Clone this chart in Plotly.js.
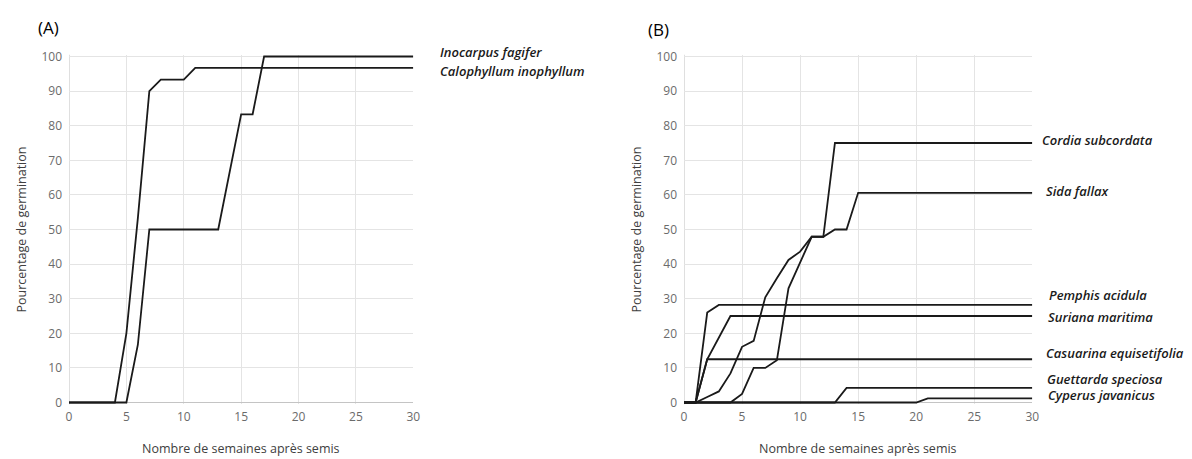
<!DOCTYPE html>
<html>
<head>
<meta charset="utf-8">
<script src="https://cdn.plot.ly/plotly-3.0.1.min.js"></script>
<style>
  html, body { margin: 0; padding: 0; background: #ffffff; }
  #chart { width: 1192px; height: 459px; }
</style>
</head>
<body>
<div id="chart"></div>
<script>
// ---- Panel A data (weeks after sowing, % germination) ----
const weeksInocarpus   = [0, 5, 6, 7, 13, 14, 15, 16, 17, 30];
const valuesInocarpus  = [0, 0, 16.7, 50, 50, 66.7, 83.3, 83.3, 100, 100];
const weeksCalophyllum  = [0, 4, 5, 6, 7, 8, 10, 11, 30];
const valuesCalophyllum = [0, 0, 20, 53.3, 90, 93.3, 93.3, 96.7, 96.7];

// ---- Panel B data ----
const weeksCordia   = [0, 1, 2, 3, 4, 5, 6, 7, 8, 9, 10, 11, 12, 13, 30];
const valuesCordia  = [0, 0, 1.6, 3.2, 8.4, 16.1, 17.8, 30.4, 35.9, 41.2, 43.6, 47.9, 47.9, 75, 75];
const weeksSida     = [0, 4, 5, 6, 7, 8, 9, 10, 11, 12, 13, 14, 15, 30];
const valuesSida    = [0, 0, 2.5, 10, 10, 12.2, 33, 40.5, 47.9, 47.9, 50, 50, 60.6, 60.6];
const weeksPemphis  = [0, 1, 2, 3, 30];
const valuesPemphis = [0, 0, 26, 28.2, 28.2];
const weeksSuriana  = [0, 1, 2, 3, 4, 30];
const valuesSuriana = [0, 0, 12.5, 18.75, 25, 25];
const weeksCasuarina  = [0, 1, 2, 30];
const valuesCasuarina = [0, 0, 12.5, 12.5];
const weeksGuettarda  = [0, 13, 14, 30];
const valuesGuettarda = [0, 0, 4.2, 4.2];
const weeksCyperus  = [0, 20, 21, 30];
const valuesCyperus = [0, 0, 1.2, 1.2];

// ---- Text ----
const panelTitles = ['(A)', '(B)'];
const xTitle = 'Nombre de semaines après semis';
const yTitle = 'Pourcentage de germination';

const seriesA = [
  {name: 'Inocarpus fagifer', x: weeksInocarpus, y: valuesInocarpus, dx: 25, dy: 5},
  {name: 'Calophyllum inophyllum', x: weeksCalophyllum, y: valuesCalophyllum, dx: 25, dy: -3}
];
const seriesB = [
  {name: 'Cordia subcordata', x: weeksCordia, y: valuesCordia, dx: 8, dy: 3},
  {name: 'Sida fallax', x: weeksSida, y: valuesSida, dx: 12, dy: 1.5},
  {name: 'Pemphis acidula', x: weeksPemphis, y: valuesPemphis, dx: 15, dy: 10},
  {name: 'Suriana maritima', x: weeksSuriana, y: valuesSuriana, dx: 14, dy: -0.5},
  {name: 'Casuarina equisetifolia', x: weeksCasuarina, y: valuesCasuarina, dx: 12, dy: 6.5},
  {name: 'Guettarda speciosa', x: weeksGuettarda, y: valuesGuettarda, dx: 13, dy: 8.5},
  {name: 'Cyperus javanicus', x: weeksCyperus, y: valuesCyperus, dx: 14, dy: 3.5}
];

const FONT = '"Open Sans", "Noto Sans", sans-serif';
const lineStyle = {color: '#1a1a1a', width: 1.8};

const traces = [];
const annotations = [];
function addSeries(list, xa, ya) {
  list.forEach(s => {
    traces.push({
      type: 'scatter', mode: 'lines', x: s.x, y: s.y, name: s.name,
      xaxis: xa, yaxis: ya, line: lineStyle, hoverinfo: 'x+y+name'
    });
    annotations.push({
      xref: xa, yref: ya, x: s.x[s.x.length - 1], y: s.y[s.y.length - 1],
      text: '<i>' + s.name + '</i>', showarrow: false, xanchor: 'left', yanchor: 'middle',
      xshift: s.dx, yshift: s.dy,
      font: {family: FONT, size: 13, color: '#1a1a1a', weight: 600}
    });
  });
}
addSeries(seriesA, 'x', 'y');
addSeries(seriesB, 'x2', 'y2');

annotations.push({xref: 'paper', yref: 'paper', x: 48 / 1192, y: 1 - 27 / 459,
  text: panelTitles[0], showarrow: false, xanchor: 'center', yanchor: 'middle',
  font: {family: FONT, size: 17, color: '#000000'}});
annotations.push({xref: 'paper', yref: 'paper', x: 658 / 1192, y: 1 - 30 / 459,
  text: panelTitles[1], showarrow: false, xanchor: 'center', yanchor: 'middle',
  font: {family: FONT, size: 17, color: '#000000'}});
// x-axis titles below each panel
['x', 'x2'].forEach(xa => {
  annotations.push({xref: xa + ' domain', yref: 'paper', x: 0.5, y: 0,
    text: xTitle, showarrow: false, xanchor: 'center', yanchor: 'bottom',
    font: {family: FONT, size: 12.5, color: '#404040'}});
});

function xAxis(domain, anchor) {
  return {
    domain: domain, anchor: anchor, range: [0, 30], dtick: 5, tick0: 0,
    showgrid: true, gridcolor: '#e4e4e4', gridwidth: 1, zeroline: false,
    showline: false, ticks: '',
    tickfont: {family: FONT, size: 12, color: '#6b6b6b'},
    ticklabelstandoff: 4,
    automargin: false, fixedrange: true
  };
}
function yAxis(domain, anchor) {
  return {
    domain: domain, anchor: anchor, range: [-0.5, 100.5], dtick: 10, tick0: 0,
    showgrid: true, gridcolor: '#e4e4e4', gridwidth: 1,
    zeroline: true, zerolinecolor: '#c4c4c4', zerolinewidth: 1.5,
    showline: false, ticks: '',
    tickfont: {family: FONT, size: 12, color: '#6b6b6b'},
    ticklabelstandoff: 6,
    title: {text: yTitle, standoff: 12, font: {family: FONT, size: 12.5, color: '#404040'}},
    automargin: false, fixedrange: true
  };
}

const pxPerUnit = (402.5 - 56.5) / 100;
const yDom = [(459 - 402.5 - 0.5 * pxPerUnit) / 459, (459 - 56.5 + 0.5 * pxPerUnit) / 459];
const layout = {
  width: 1192, height: 459,
  margin: {l: 0, r: 0, t: 0, b: 0},
  paper_bgcolor: '#ffffff', plot_bgcolor: '#ffffff',
  showlegend: false,
  xaxis: xAxis([69 / 1192, 413.3 / 1192], 'y'),
  yaxis: yAxis(yDom, 'x'),
  xaxis2: xAxis([684 / 1192, 1032.3 / 1192], 'y2'),
  yaxis2: yAxis(yDom, 'x2'),
  annotations: annotations,
  shapes: [
    {type: 'line', xref: 'x', yref: 'paper', x0: 0, x1: 0, y0: yDom[0], y1: yDom[1],
     line: {color: '#d4d4d4', width: 1.5}, layer: 'below'},
    {type: 'line', xref: 'x2', yref: 'paper', x0: 0, x1: 0, y0: yDom[0], y1: yDom[1],
     line: {color: '#d4d4d4', width: 1.5}, layer: 'below'}
  ],
  font: {family: FONT}
};

Plotly.newPlot('chart', traces, layout, {displayModeBar: false, staticPlot: true});
</script>
</body>
</html>
